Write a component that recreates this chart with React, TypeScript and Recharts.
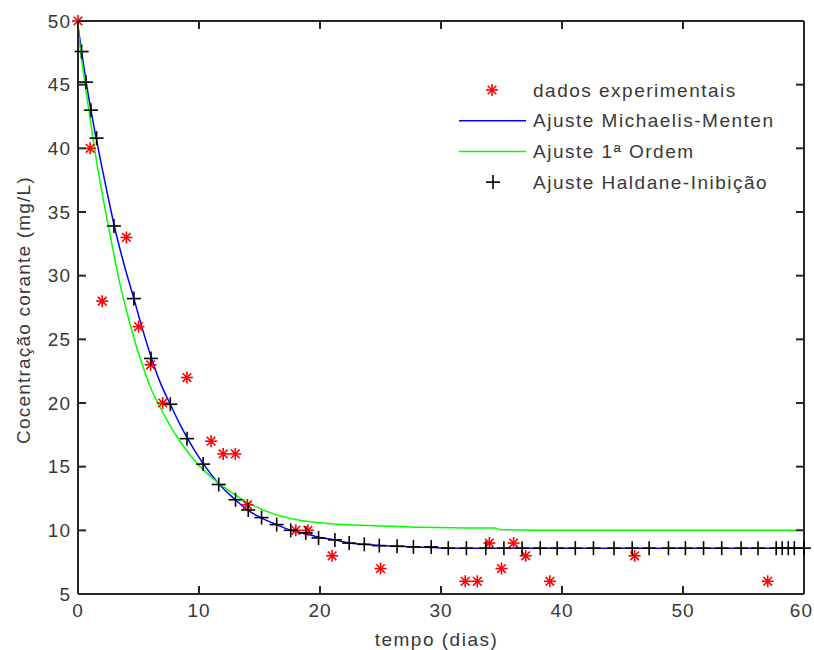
import React from "react";
import { ComposedChart, Line, Scatter, XAxis, YAxis, Legend } from "recharts";

// eixos
const xTicks = [0, 10, 20, 30, 40, 50, 60];
const yTicks = [5, 10, 15, 20, 25, 30, 35, 40, 45, 50];
const xLabel = "tempo (dias)";
const yLabel = "Cocentração corante (mg/L)";

const seriesNames = [
  "dados experimentais",
  "Ajuste Michaelis-Menten",
  "Ajuste 1ª Ordem",
  "Ajuste Haldane-Inibição",
];

// dados experimentais
const expDays = [0, 1, 2, 4, 5, 6, 7, 9, 11, 12, 13, 14, 18, 19, 21, 25, 32, 33, 34, 35, 36, 37, 39, 46, 57];
const expConc = [50, 40, 28, 33, 26, 23, 20, 22, 17, 16, 16, 12, 10, 10, 8, 7, 6, 6, 9, 7, 9, 8, 6, 8, 6];

// ajuste Michaelis-Menten (linha azul)
const mmDays = [0, 0.3, 0.66, 1.07, 1.54, 2.0, 2.57, 3.0, 3.8, 4.62, 5.3, 6.05, 6.8, 7.6, 8.6, 9.0, 10.3, 11.6, 13.0, 14.0, 15.1, 16.4, 17.6, 18.8, 19.9, 21.2, 22.4, 23.7, 24.9, 26.4, 27.7, 29.2, 30.6, 40, 50, 60];
const mmConc = [49.6, 47.6, 45.3, 43.0, 40.6, 38.4, 35.8, 33.9, 30.9, 28.2, 25.9, 23.6, 21.6, 19.95, 18.0, 17.3, 15.3, 13.7, 12.4, 11.6, 11.0, 10.45, 10.0, 9.75, 9.45, 9.25, 9.0, 8.9, 8.8, 8.75, 8.7, 8.65, 8.6, 8.6, 8.6, 8.6];

// ajuste 1a ordem (linha verde)
const foDays = [0, 0.2, 0.58, 0.91, 1.19, 1.5, 1.88, 2.2, 2.57, 3.0, 3.48, 4.0, 4.5, 5.0, 5.5, 6.0, 6.66, 7.5, 8.5, 9.9, 11, 12.5, 14, 16, 18, 20, 22, 25, 28, 31, 34.4, 35, 40, 50, 60];
const foConc = [49.5, 47.7, 45.1, 42.9, 41.1, 39.2, 37.1, 35.4, 33.6, 31.5, 29.3, 27.3, 25.5, 23.9, 22.5, 21.2, 19.9, 18.4, 16.9, 15.2, 14.2, 13.1, 12.2, 11.35, 10.85, 10.6, 10.45, 10.35, 10.25, 10.2, 10.18, 10.05, 10.0, 10.0, 10.0];

// ajuste Haldane-Inibição (marcadores +)
const halDays = [0.3, 0.66, 1.07, 1.54, 2.97, 4.62, 6.03, 7.63, 9.01, 10.34, 11.63, 13.02, 14.07, 15.17, 16.42, 17.58, 18.82, 19.88, 21.23, 22.41, 23.66, 24.9, 26.37, 27.72, 29.19, 30.6, 32.1, 33.7, 35.2, 36.7, 38.2, 39.6, 41.1, 42.6, 44.3, 45.8, 47.2, 48.8, 50.2, 51.7, 53.2, 54.8, 56.2, 57.7, 58.2, 58.7, 59.2, 60];
const halConc = [47.6, 45.2, 43.0, 40.8, 33.9, 28.2, 23.5, 19.9, 17.2, 15.2, 13.6, 12.4, 11.6, 11.0, 10.45, 10.0, 9.8, 9.4, 9.25, 9.0, 8.9, 8.8, 8.75, 8.7, 8.7, 8.6, 8.6, 8.6, 8.6, 8.6, 8.6, 8.6, 8.6, 8.6, 8.6, 8.6, 8.6, 8.6, 8.6, 8.6, 8.6, 8.6, 8.6, 8.6, 8.6, 8.6, 8.6, 8.6];

const toPoints = (xs: number[], ys: number[]) => xs.map((x, i) => ({ x, y: ys[i] }));

const expData = toPoints(expDays, expConc);
const mmData = toPoints(mmDays, mmConc);
const foData = toPoints(foDays, foConc);
const halData = toPoints(halDays, halConc);

const CHART_W = 814;
const CHART_H = 650;
const MARGIN = { top: 21, right: 10, bottom: 0, left: 0 };
const PLOT_TOP = MARGIN.top;
const PLOT_RIGHT = CHART_W - MARGIN.right;

const FONT = "'Liberation Sans', Arial, sans-serif";
const TEXT = "#383838";
const AXIS = "#262626";
const TICK_LEN = 8;

const Star = ({ cx, cy, color = "#ff0000" }: any) => {
  const r = 6;
  const d = 4.3;
  return (
    <g stroke={color} strokeWidth={1.6}>
      <line x1={cx - r} y1={cy} x2={cx + r} y2={cy} />
      <line x1={cx} y1={cy - r} x2={cx} y2={cy + r} />
      <line x1={cx - d} y1={cy - d} x2={cx + d} y2={cy + d} />
      <line x1={cx - d} y1={cy + d} x2={cx + d} y2={cy - d} />
    </g>
  );
};

const Plus = ({ cx, cy, color = "#000" }: any) => {
  const r = 7;
  return (
    <g stroke={color} strokeWidth={1.6}>
      <line x1={cx - r} y1={cy} x2={cx + r} y2={cy} />
      <line x1={cx} y1={cy - r} x2={cx} y2={cy + r} />
    </g>
  );
};

// ticks para dentro nos quatro lados (estilo matlab)
const BottomTick = ({ x, y, payload }: any) => {
  const last = payload.value === xTicks[xTicks.length - 1];
  const px = Number(x);
  const py = Number(y);
  const axisY = py - 10;
  return (
    <g>
      <path d={`M${px},${axisY}V${axisY - TICK_LEN}`} stroke={AXIS} strokeWidth={2} fill="none" />
      <path d={`M${px},${PLOT_TOP}V${PLOT_TOP + TICK_LEN}`} stroke={AXIS} strokeWidth={2} fill="none" />
      <text
        x={last ? px + 9 : px}
        y={py}
        dy="0.71em"
        textAnchor={last ? "end" : "middle"}
        fill={TEXT}
        fontSize={19}
        fontFamily={FONT}
        letterSpacing={1}
      >
        {payload.value}
      </text>
    </g>
  );
};

const LeftTick = ({ x, y, payload }: any) => {
  const px = Number(x);
  const py = Number(y);
  const axisX = px + 7;
  return (
    <g>
      <path d={`M${axisX},${py}H${axisX + TICK_LEN}`} stroke={AXIS} strokeWidth={2} fill="none" />
      <path d={`M${PLOT_RIGHT},${py}H${PLOT_RIGHT - TICK_LEN}`} stroke={AXIS} strokeWidth={2} fill="none" />
      <text x={px} y={py} dy="0.355em" textAnchor="end" fill={TEXT} fontSize={19} fontFamily={FONT} letterSpacing={1}>
        {payload.value}
      </text>
    </g>
  );
};

const YTitle = (props: any) => {
  const { viewBox } = props;
  const x = viewBox.x + 30;
  const y = viewBox.y + viewBox.height / 2 + 2.5;
  return (
    <text x={x} y={y} transform={`rotate(-90 ${x} ${y})`} textAnchor="middle" fill={TEXT} fontSize={19} fontFamily={FONT} letterSpacing={1.2}>
      {yLabel}
    </text>
  );
};

const XTitle = (props: any) => {
  const { viewBox } = props;
  const x = viewBox.x + viewBox.width / 2 - 4.5;
  const y = viewBox.y + 52;
  return (
    <text x={x} y={y} textAnchor="middle" fill={TEXT} fontSize={19} fontFamily={FONT} letterSpacing={1.5}>
      {xLabel}
    </text>
  );
};

const renderLegend = (props: any) => {
  const items = (props.payload || [])
    .filter((p: any) => seriesNames.includes(p.value))
    .sort((a: any, b: any) => seriesNames.indexOf(a.value) - seriesNames.indexOf(b.value));
  return (
    <svg width={340} height={130}>
      {items.map((item: any, i: number) => {
        const cy = 20 + i * 30.7;
        let icon;
        if (item.type === "star") icon = <Star cx={52} cy={cy} color={item.color} />;
        else if (item.type === "cross") icon = <Plus cx={53} cy={cy} color={item.color} />;
        else icon = <line x1={19} y1={cy} x2={86} y2={cy} stroke={item.color} strokeWidth={1.5} />;
        return (
          <g key={item.value}>
            {icon}
            <text x={93} y={cy} dominantBaseline="central" fill={TEXT} fontSize={19} fontFamily={FONT} letterSpacing={1.5}>
              {item.value}
            </text>
          </g>
        );
      })}
    </svg>
  );
};

export default function App() {
  return (
    <div style={{ position: "absolute", left: 0, top: 0, width: CHART_W, height: CHART_H, background: "#fff" }}>
      <ComposedChart width={CHART_W} height={CHART_H} margin={MARGIN}>
        <XAxis
          xAxisId="b"
          dataKey="x"
          type="number"
          domain={[0, 60]}
          ticks={xTicks}
          orientation="bottom"
          height={56}
          stroke={AXIS}
          strokeWidth={2}
          tickLine={false}
          tickSize={0}
          tickMargin={10}
          tick={<BottomTick />}
          label={(p: any) => <XTitle {...p} />}
        />
        <XAxis
          xAxisId="t"
          type="number"
          domain={[0, 60]}
          orientation="top"
          mirror
          stroke={AXIS}
          strokeWidth={2}
          tickLine={false}
          tick={false}
        />
        <YAxis
          yAxisId="l"
          type="number"
          domain={[5, 50]}
          ticks={yTicks}
          width={78}
          stroke={AXIS}
          strokeWidth={2}
          tickLine={false}
          tickSize={0}
          tickMargin={7}
          tick={<LeftTick />}
          label={(p: any) => <YTitle {...p} />}
        />
        <YAxis
          yAxisId="r"
          type="number"
          domain={[5, 50]}
          orientation="right"
          mirror
          stroke={AXIS}
          strokeWidth={2}
          tickLine={false}
          tick={false}
        />
        <Legend
          layout="vertical"
          align="center"
          verticalAlign="middle"
          wrapperStyle={{ left: 440, top: 70, width: 340, height: 130 }}
          content={renderLegend}
        />
        <Scatter
          xAxisId="b"
          yAxisId="l"
          name={seriesNames[0]}
          data={expData}
          dataKey="y"
          fill="#ff0000"
          legendType="star"
          shape={(p: any) => <Star cx={p.cx} cy={p.cy} />}
          isAnimationActive={false}
        />
        <Line
          xAxisId="b"
          yAxisId="l"
          name={seriesNames[1]}
          data={mmData}
          dataKey="y"
          type="monotone"
          stroke="#0000ff"
          strokeWidth={1.5}
          dot={false}
          activeDot={false}
          legendType="line"
          isAnimationActive={false}
        />
        <Line
          xAxisId="b"
          yAxisId="l"
          name={seriesNames[2]}
          data={foData}
          dataKey="y"
          type="monotone"
          stroke="#00ff00"
          strokeWidth={1.5}
          dot={false}
          activeDot={false}
          legendType="line"
          isAnimationActive={false}
        />
        <Scatter
          xAxisId="b"
          yAxisId="l"
          name={seriesNames[3]}
          data={halData}
          dataKey="y"
          fill="#000000"
          legendType="cross"
          shape={(p: any) => <Plus cx={p.cx} cy={p.cy} />}
          isAnimationActive={false}
        />
      </ComposedChart>
    </div>
  );
}
